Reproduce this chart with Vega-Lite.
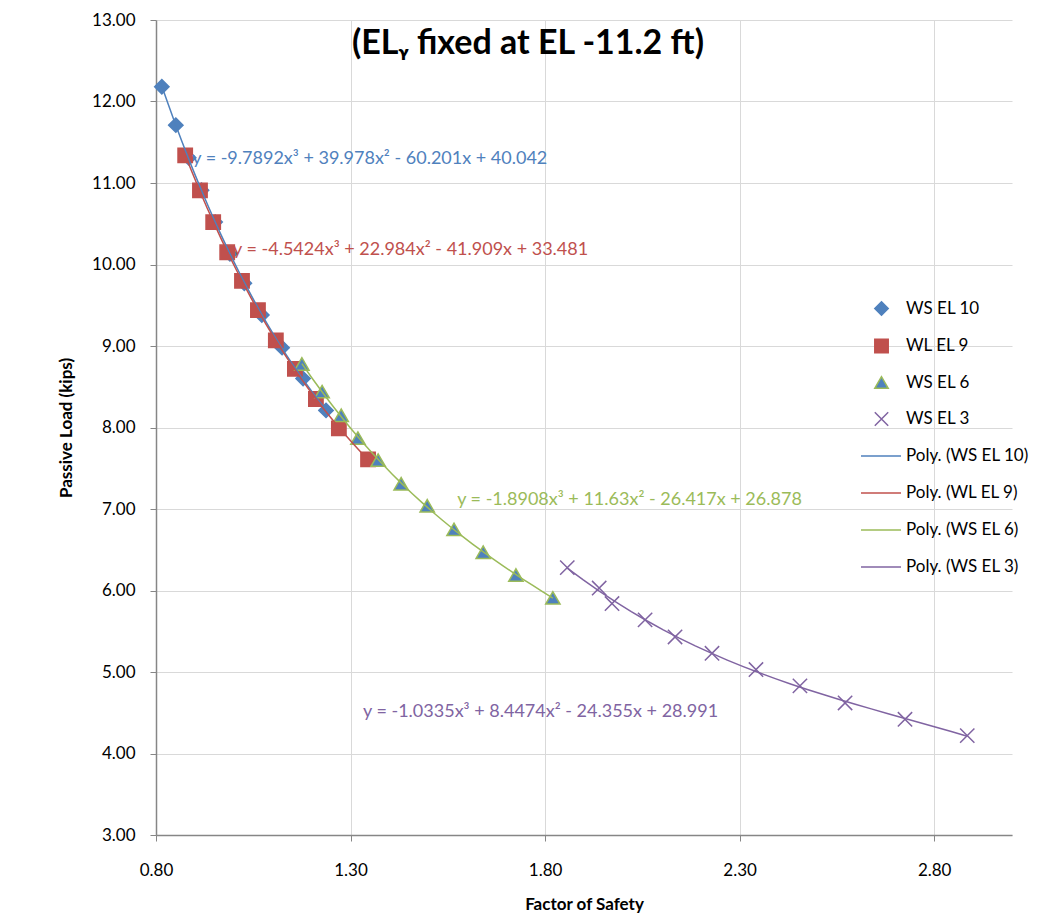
{
  "$schema": "https://vega.github.io/schema/vega-lite/v6.json",
  "width": 856,
  "height": 815,
  "autosize": {"type": "none"},
  "padding": {"left": 156, "top": 20, "right": 33, "bottom": 82},
  "background": "white",
  "config": {
    "view": {"stroke": null},
    "font": "Lato",
    "axis": {
      "labelFont": "Lato",
      "labelFontSize": 17,
      "labelColor": "#000000",
      "labelFlush": false,
      "titleFont": "Lato",
      "titleFontSize": 17,
      "titleFontWeight": "bold",
      "titleColor": "#000000",
      "gridColor": "#D9D9D9",
      "gridWidth": 1,
      "domainColor": "#868686",
      "domainWidth": 1.5,
      "tickColor": "#868686",
      "tickSize": 6
    },
    "legend": {
      "labelFont": "Lato",
      "labelFontSize": 17,
      "labelColor": "#000000",
      "padding": 0
    }
  },
  "datasets": {
    "pts": [
      {"series": "WS EL 10", "poly": "Poly. (WS EL 10)", "fs": 0.815, "load": 12.18},
      {"series": "WS EL 10", "poly": "Poly. (WS EL 10)", "fs": 0.851, "load": 11.71},
      {"series": "WS EL 10", "poly": "Poly. (WS EL 10)", "fs": 0.884, "load": 11.31},
      {"series": "WS EL 10", "poly": "Poly. (WS EL 10)", "fs": 0.917, "load": 10.91},
      {"series": "WS EL 10", "poly": "Poly. (WS EL 10)", "fs": 0.952, "load": 10.52},
      {"series": "WS EL 10", "poly": "Poly. (WS EL 10)", "fs": 0.99, "load": 10.13},
      {"series": "WS EL 10", "poly": "Poly. (WS EL 10)", "fs": 1.027, "load": 9.77},
      {"series": "WS EL 10", "poly": "Poly. (WS EL 10)", "fs": 1.072, "load": 9.38},
      {"series": "WS EL 10", "poly": "Poly. (WS EL 10)", "fs": 1.124, "load": 8.98},
      {"series": "WS EL 10", "poly": "Poly. (WS EL 10)", "fs": 1.178, "load": 8.6},
      {"series": "WS EL 10", "poly": "Poly. (WS EL 10)", "fs": 1.237, "load": 8.21},
      {"series": "WL EL 9", "poly": "Poly. (WL EL 9)", "fs": 0.875, "load": 11.34},
      {"series": "WL EL 9", "poly": "Poly. (WL EL 9)", "fs": 0.913, "load": 10.91},
      {"series": "WL EL 9", "poly": "Poly. (WL EL 9)", "fs": 0.947, "load": 10.52},
      {"series": "WL EL 9", "poly": "Poly. (WL EL 9)", "fs": 0.983, "load": 10.15},
      {"series": "WL EL 9", "poly": "Poly. (WL EL 9)", "fs": 1.021, "load": 9.8},
      {"series": "WL EL 9", "poly": "Poly. (WL EL 9)", "fs": 1.062, "load": 9.44},
      {"series": "WL EL 9", "poly": "Poly. (WL EL 9)", "fs": 1.108, "load": 9.07},
      {"series": "WL EL 9", "poly": "Poly. (WL EL 9)", "fs": 1.157, "load": 8.72},
      {"series": "WL EL 9", "poly": "Poly. (WL EL 9)", "fs": 1.211, "load": 8.35},
      {"series": "WL EL 9", "poly": "Poly. (WL EL 9)", "fs": 1.27, "load": 7.99},
      {"series": "WL EL 9", "poly": "Poly. (WL EL 9)", "fs": 1.345, "load": 7.61},
      {"series": "WS EL 6", "poly": "Poly. (WS EL 6)", "fs": 1.175, "load": 8.78},
      {"series": "WS EL 6", "poly": "Poly. (WS EL 6)", "fs": 1.227, "load": 8.44},
      {"series": "WS EL 6", "poly": "Poly. (WS EL 6)", "fs": 1.276, "load": 8.15},
      {"series": "WS EL 6", "poly": "Poly. (WS EL 6)", "fs": 1.319, "load": 7.87},
      {"series": "WS EL 6", "poly": "Poly. (WS EL 6)", "fs": 1.371, "load": 7.6},
      {"series": "WS EL 6", "poly": "Poly. (WS EL 6)", "fs": 1.43, "load": 7.31},
      {"series": "WS EL 6", "poly": "Poly. (WS EL 6)", "fs": 1.497, "load": 7.04},
      {"series": "WS EL 6", "poly": "Poly. (WS EL 6)", "fs": 1.566, "load": 6.75},
      {"series": "WS EL 6", "poly": "Poly. (WS EL 6)", "fs": 1.641, "load": 6.47},
      {"series": "WS EL 6", "poly": "Poly. (WS EL 6)", "fs": 1.725, "load": 6.19},
      {"series": "WS EL 6", "poly": "Poly. (WS EL 6)", "fs": 1.82, "load": 5.91},
      {"series": "WS EL 3", "poly": "Poly. (WS EL 3)", "fs": 1.857, "load": 6.28},
      {"series": "WS EL 3", "poly": "Poly. (WS EL 3)", "fs": 1.939, "load": 6.03},
      {"series": "WS EL 3", "poly": "Poly. (WS EL 3)", "fs": 1.972, "load": 5.84},
      {"series": "WS EL 3", "poly": "Poly. (WS EL 3)", "fs": 2.057, "load": 5.64},
      {"series": "WS EL 3", "poly": "Poly. (WS EL 3)", "fs": 2.134, "load": 5.43},
      {"series": "WS EL 3", "poly": "Poly. (WS EL 3)", "fs": 2.229, "load": 5.23},
      {"series": "WS EL 3", "poly": "Poly. (WS EL 3)", "fs": 2.342, "load": 5.03},
      {"series": "WS EL 3", "poly": "Poly. (WS EL 3)", "fs": 2.455, "load": 4.83},
      {"series": "WS EL 3", "poly": "Poly. (WS EL 3)", "fs": 2.571, "load": 4.62},
      {"series": "WS EL 3", "poly": "Poly. (WS EL 3)", "fs": 2.725, "load": 4.42},
      {"series": "WS EL 3", "poly": "Poly. (WS EL 3)", "fs": 2.885, "load": 4.22}
    ],
    "eqs": [
      {"poly": "Poly. (WS EL 10)", "label": "y = -9.7892x³ + 39.978x² - 60.201x + 40.042", "fs": 0.893, "load": 11.29},
      {"poly": "Poly. (WL EL 9)", "label": "y = -4.5424x³ + 22.984x² - 41.909x + 33.481", "fs": 0.998, "load": 10.18},
      {"poly": "Poly. (WS EL 6)", "label": "y = -1.8908x³ + 11.63x² - 26.417x + 26.878", "fs": 1.574, "load": 7.11},
      {"poly": "Poly. (WS EL 3)", "label": "y = -1.0335x³ + 8.4474x² - 24.355x + 28.991", "fs": 1.332, "load": 4.51}
    ],
    "heading": [
      {"heading": "(ELᵧ fixed at EL -11.2 ft)", "fs": 1.756, "load": 12.58}
    ]
  },
  "encoding": {
    "x": {
      "field": "fs",
      "type": "quantitative",
      "scale": {"domain": [0.8, 3.0], "nice": false, "zero": false},
      "axis": {
        "title": "Factor of Safety",
        "values": [0.8, 1.3, 1.8, 2.3, 2.8],
        "format": ".2f",
        "labelPadding": 21,
        "titlePadding": 18
      }
    },
    "y": {
      "field": "load",
      "type": "quantitative",
      "scale": {"domain": [3, 13], "nice": false, "zero": false},
      "axis": {
        "title": "Passive Load (kips)",
        "values": [3, 4, 5, 6, 7, 8, 9, 10, 11, 12, 13],
        "format": ".2f",
        "labelPadding": 15,
        "titlePadding": 16
      }
    }
  },
  "layer": [
    {
      "data": {"name": "pts"},
      "mark": {"type": "point", "opacity": 1, "strokeWidth": 1.5, "size": 205},
      "encoding": {
        "shape": {
          "field": "series",
          "type": "nominal",
          "scale": {
            "domain": ["WS EL 10", "WL EL 9", "WS EL 6", "WS EL 3"],
            "range": ["diamond", "square", "triangle-up", "M-1,-1L1,1M-1,1L1,-1"]
          },
          "legend": {
            "title": null,
            "orient": "none",
            "legendX": 717,
            "legendY": 280,
            "symbolSize": 180,
            "symbolStrokeWidth": 1.5,
            "labelOffset": 16,
            "rowPadding": 16.5
          }
        },
        "fill": {
          "field": "series",
          "type": "nominal",
          "scale": {
            "domain": ["WS EL 10", "WL EL 9", "WS EL 6", "WS EL 3"],
            "range": ["#4F81BD", "#C0504D", "#4F81BD", "transparent"]
          },
          "legend": {
            "title": null,
            "orient": "none",
            "legendX": 717,
            "legendY": 280,
            "symbolSize": 180,
            "symbolStrokeWidth": 1.5,
            "labelOffset": 16,
            "rowPadding": 16.5
          }
        },
        "stroke": {
          "field": "series",
          "type": "nominal",
          "scale": {
            "domain": ["WS EL 10", "WL EL 9", "WS EL 6", "WS EL 3"],
            "range": ["#4F81BD", "#C0504D", "#9BBB59", "#8064A2"]
          },
          "legend": {
            "title": null,
            "orient": "none",
            "legendX": 717,
            "legendY": 280,
            "symbolSize": 180,
            "symbolStrokeWidth": 1.5,
            "labelOffset": 16,
            "rowPadding": 16.5
          }
        }
      }
    },
    {
      "data": {"name": "pts"},
      "transform": [
        {"regression": "load", "on": "fs", "groupby": ["poly"], "method": "poly", "order": 3}
      ],
      "mark": {"type": "line", "strokeWidth": 1.5},
      "encoding": {
        "color": {
          "field": "poly",
          "type": "nominal",
          "scale": {
            "domain": ["Poly. (WS EL 10)", "Poly. (WL EL 9)", "Poly. (WS EL 6)", "Poly. (WS EL 3)"],
            "range": ["#4F81BD", "#C0504D", "#9BBB59", "#8064A2"]
          },
          "legend": {
            "title": null,
            "orient": "none",
            "legendX": 704,
            "legendY": 415,
            "symbolType": "stroke",
            "symbolSize": 1600,
            "symbolStrokeWidth": 1.5,
            "labelOffset": 4,
            "rowPadding": 8
          }
        }
      }
    },
    {
      "data": {"name": "eqs"},
      "mark": {"type": "text", "align": "left", "baseline": "middle", "font": "Lato", "fontSize": 18},
      "encoding": {
        "text": {"field": "label", "type": "nominal"},
        "color": {"field": "poly", "type": "nominal"}
      }
    },
    {
      "data": {"name": "heading"},
      "mark": {"type": "text", "align": "center", "baseline": "alphabetic", "font": "Lato", "fontSize": 34, "fontWeight": "bold", "color": "#000000"},
      "encoding": {
        "text": {"field": "heading", "type": "nominal"}
      }
    }
  ]
}
